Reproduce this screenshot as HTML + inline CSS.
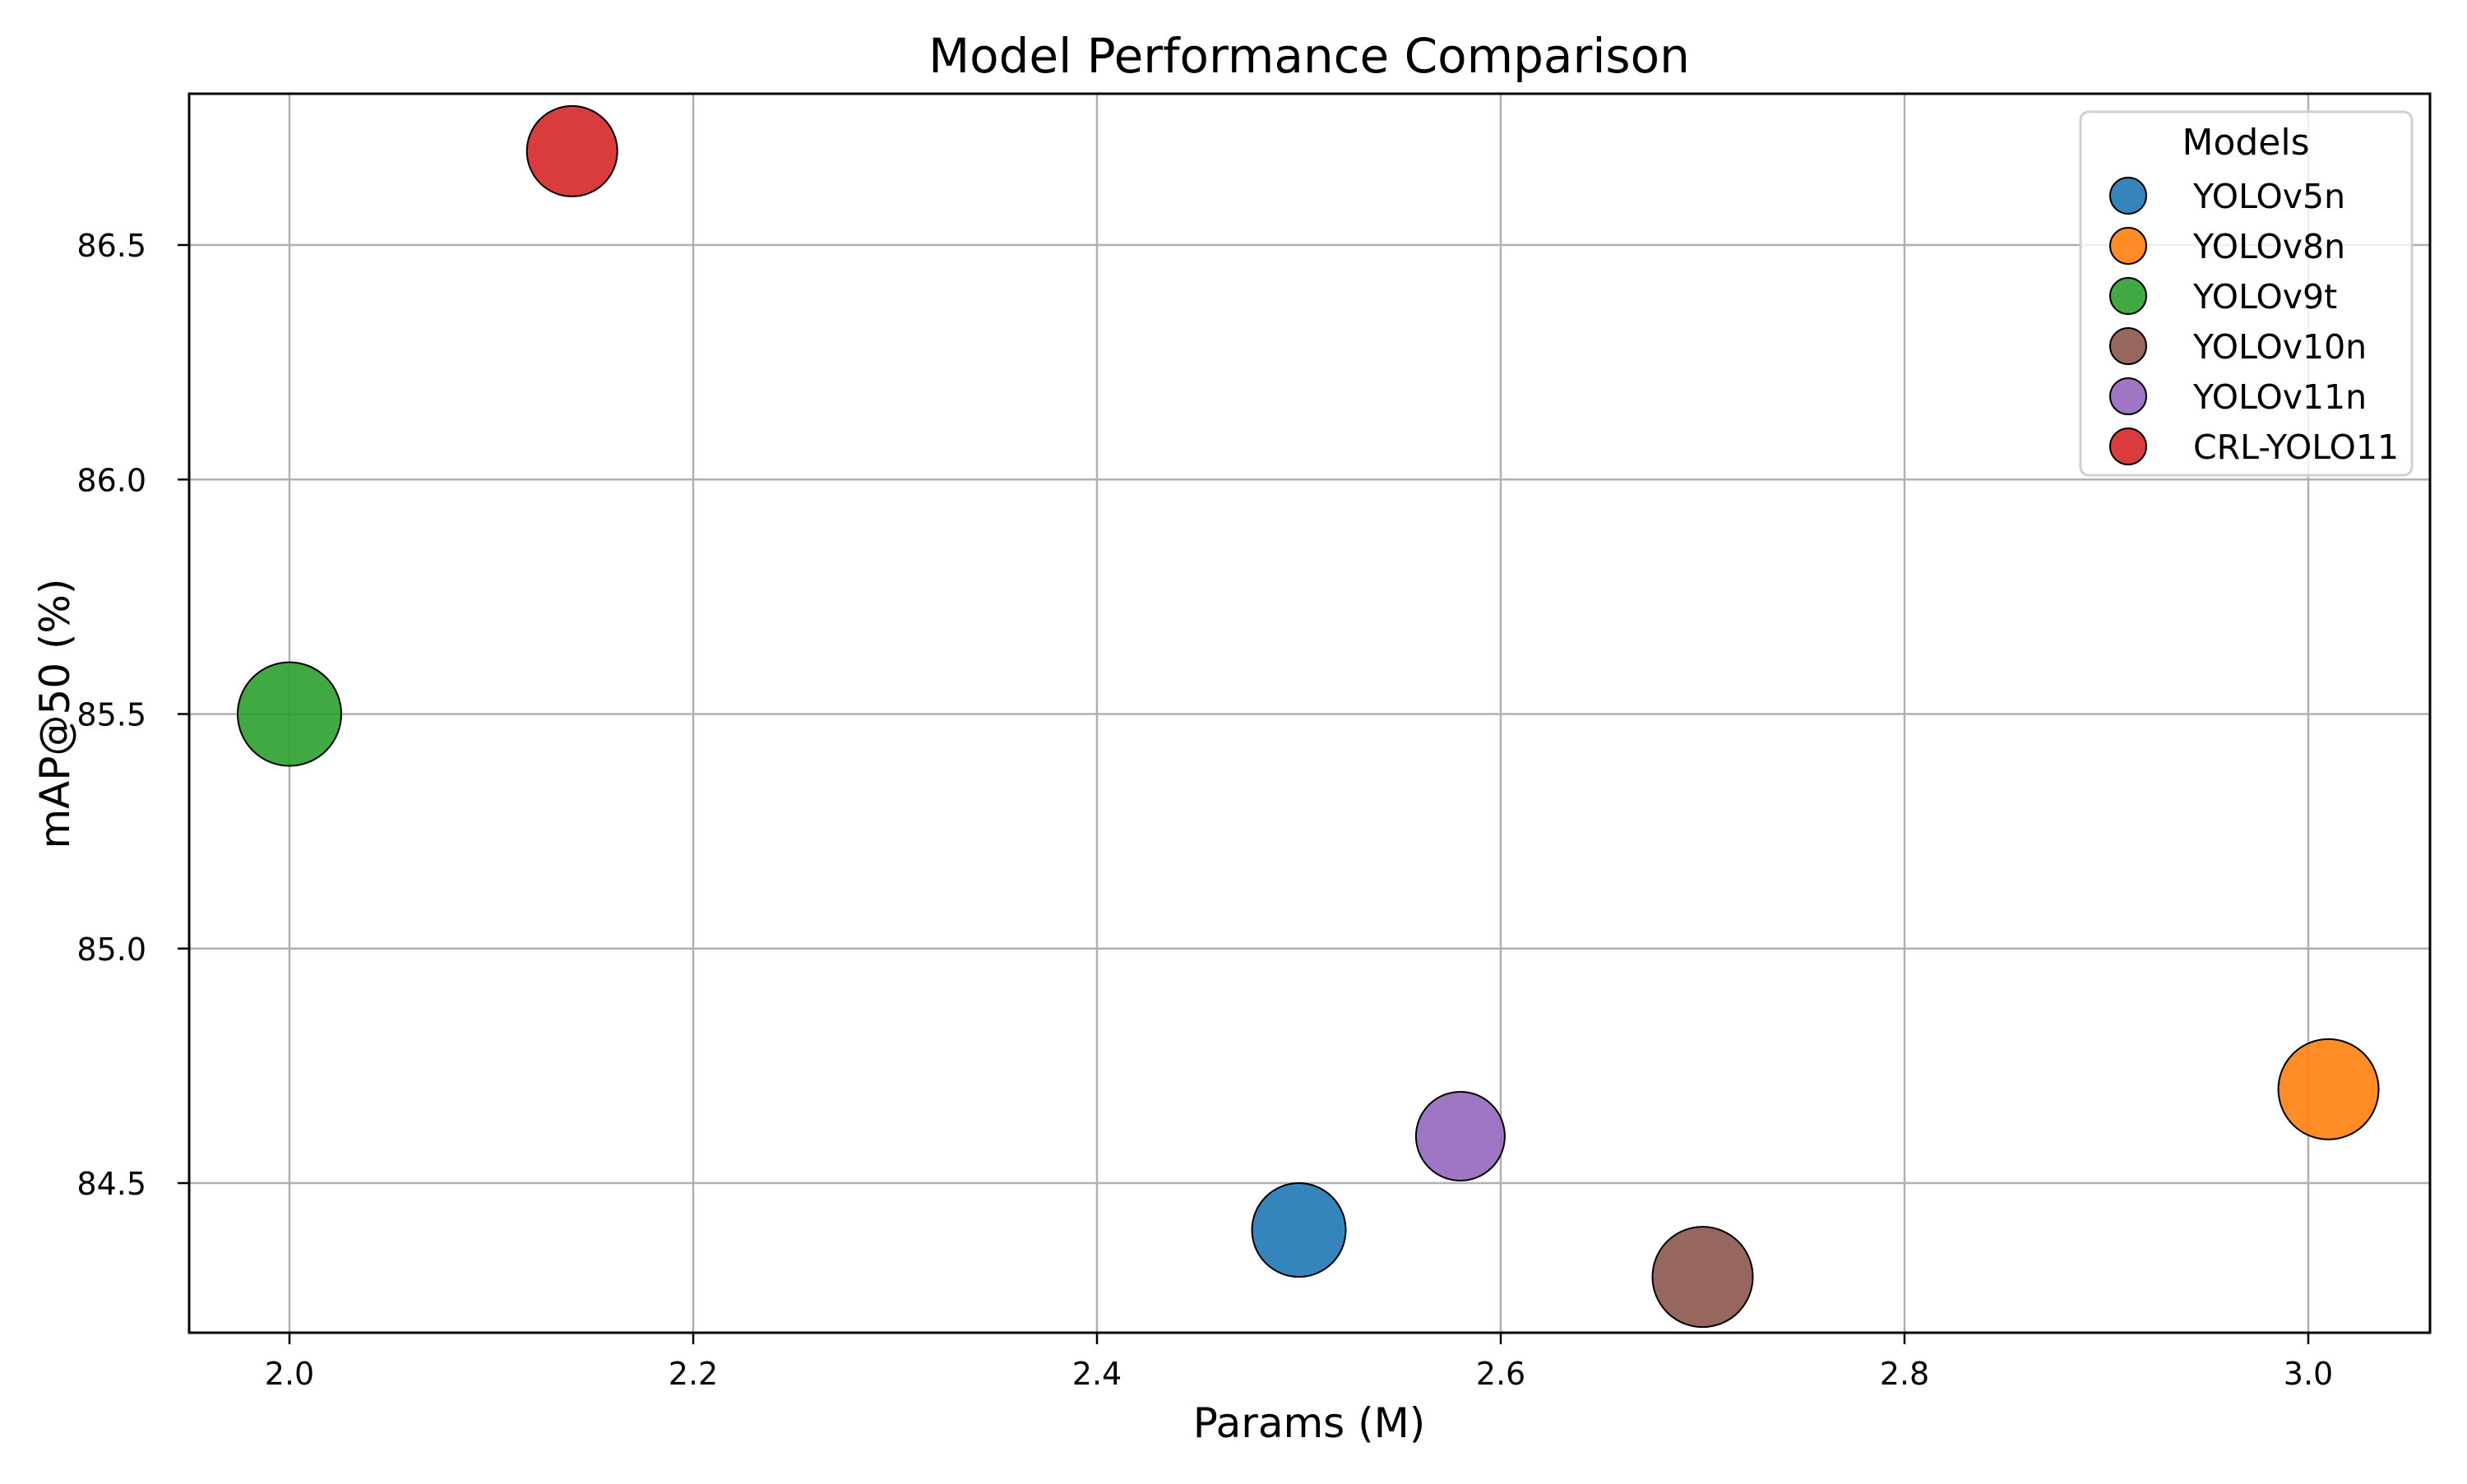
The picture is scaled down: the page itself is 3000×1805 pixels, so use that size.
<!DOCTYPE html>
<html><head><meta charset="utf-8"><style>
html,body{margin:0;padding:0;background:#fff;}
svg text{font-family:"DejaVu Sans","Liberation Sans",sans-serif;}
</style></head><body>
<svg id="chart" width="3000" height="1800" xmlns="http://www.w3.org/2000/svg">
<rect width="3000" height="1800" fill="#fff"/>
<g id="grid"></g>
<g id="marks"></g>
<rect x="230" y="114" width="2725" height="1507" fill="none" stroke="#000" stroke-width="3"/>
<g id="ticks"></g>
<text x="1592" y="88" font-size="58" text-anchor="middle">Model Performance Comparison</text>
<text x="1592" y="1748" font-size="50" text-anchor="middle">Params (M)</text>
<text x="84" y="868" font-size="50" text-anchor="middle" transform="rotate(-90 84 868)">mAP@50 (%)</text>
<g id="legend"></g>
</svg>
<script>
const models=["YOLOv5n","YOLOv8n","YOLOv9t","YOLOv10n","YOLOv11n","CRL-YOLO11"];
const params=[2.5,3.01,2.0,2.7,2.58,2.14];
const map50=[84.4,84.7,85.5,84.3,84.6,86.7];
const bubbleSize=[57,61,63,61,54,55];
const colors=["#1f77b4","#ff7f0e","#2ca02c","#8c564b","#9467bd","#d62728"];
const xTicks=[2.0,2.2,2.4,2.6,2.8,3.0];
const yTicks=[84.5,85.0,85.5,86.0,86.5];
const NS="http://www.w3.org/2000/svg";
function X(v){return 352+(v-2.0)*2455;}
function Y(v){return 1439-(v-84.5)*570.5;}
function mk(tag,attrs,parent){const e=document.createElementNS(NS,tag);for(const k in attrs)e.setAttribute(k,attrs[k]);parent.appendChild(e);return e;}
const grid=document.getElementById('grid'),ticks=document.getElementById('ticks'),marks=document.getElementById('marks'),legend=document.getElementById('legend');
xTicks.forEach(t=>{
 const g=mk('line',{x1:X(t),x2:X(t),y1:114,y2:1621,stroke:'#b0b0b0','stroke-width':2.5},grid);
 
 
 const tk=mk('line',{x1:X(t),x2:X(t),y1:1621,y2:1635,stroke:'#000','stroke-width':2.5},ticks);
 
 
 const tx=mk('text',{x:X(t),y:1684,'font-size':38,'text-anchor':'middle'},ticks);
 tx.textContent=t.toFixed(1);
 
 
});
yTicks.forEach(t=>{
 const g=mk('line',{x1:230,x2:2955,y1:Y(t),y2:Y(t),stroke:'#b0b0b0','stroke-width':2.5},grid);
 
 
 const tk=mk('line',{x1:216,x2:230,y1:Y(t),y2:Y(t),stroke:'#000','stroke-width':2.5},ticks);
 
 
 const tx=mk('text',{x:178,y:Y(t)+14,'font-size':38,'text-anchor':'end'},ticks);
 tx.textContent=t.toFixed(1);
 
 
});
models.forEach((m,i)=>{
 const c=mk('circle',{cx:X(params[i]),cy:Y(map50[i]),r:bubbleSize[i],fill:colors[i],'fill-opacity':0.9,stroke:'#000','stroke-width':2},marks);
 
 
});
const box=mk('rect',{x:2530,y:136,width:403,height:442,rx:10,fill:'#fff','fill-opacity':0.8,stroke:'#d0d0d0','stroke-width':3},legend);


const lt=mk('text',{x:2731,y:188,'font-size':44,'text-anchor':'middle'},legend);
lt.textContent='Models';


models.forEach((m,i)=>{
 const cy=238+i*61;
 const c=mk('circle',{cx:2588,cy:cy,r:22,fill:colors[i],'fill-opacity':0.9,stroke:'#000','stroke-width':2},legend);
 
 
 const t=mk('text',{x:2667,y:cy+15,'font-size':41},legend);
 t.textContent=m;
 
 
});
</script>
</body></html>
